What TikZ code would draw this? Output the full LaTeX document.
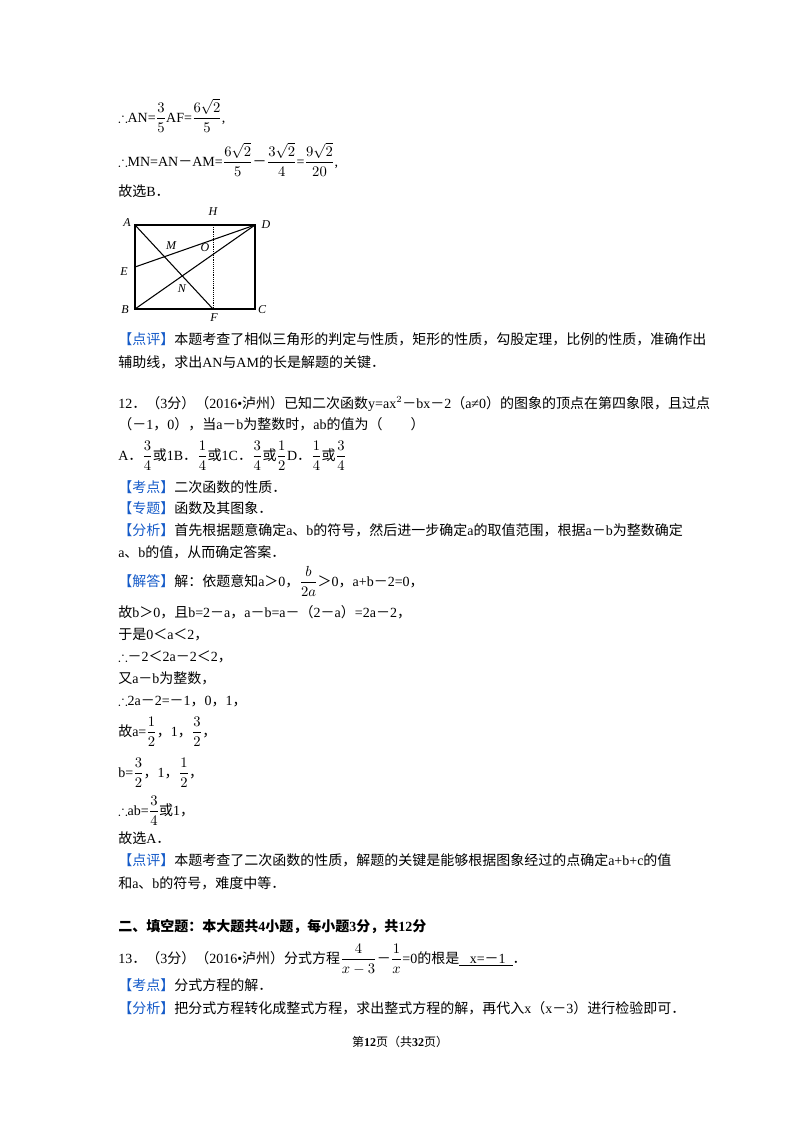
\documentclass[tikz,border=0pt]{standalone}
\usepackage{amsmath,amssymb}
\usepackage{fontspec}
\setmainfont{Liberation Serif}
\newfontfamily\cjk{Noto Sans CJK SC}
\XeTeXinterchartokenstate=1
\newXeTeXintercharclass\CJKcls
\newcount\cc
\cc="3000 \loop \XeTeXcharclass\cc=\CJKcls \advance\cc 1 \ifnum\cc<"A000 \repeat
\cc="FF00 \loop \XeTeXcharclass\cc=\CJKcls \advance\cc 1 \ifnum\cc<"FFF0 \repeat
\XeTeXinterchartoks 0 \CJKcls = {\begingroup\cjk}
\XeTeXinterchartoks 4095 \CJKcls = {\begingroup\cjk}
\XeTeXinterchartoks \CJKcls 0 = {\endgroup}
\XeTeXinterchartoks \CJKcls 4095 = {\endgroup}
\definecolor{kw}{RGB}{20,90,200}
\newcommand{\kw}[1]{\textcolor{kw}{【#1】}}
\newcommand{\tf}{$\therefore$}
\newcommand{\fr}[2]{$\dfrac{#1}{#2}$}
\begin{document}
\begin{tikzpicture}[x=0.75pt,y=-0.75pt,
  txt/.style={anchor=base west,inner sep=0pt,font=\fontsize{10.5}{12}\selectfont},
  lab/.style={font=\fontsize{9}{10}\selectfont\itshape,inner sep=1pt},
  ln/.style={line width=0.8pt}]
\useasboundingbox (0,0) rectangle (800,1132);
\node[txt] (l1) at (118,122) {\tf AN=\fr{3}{5}AF=\fr{6\sqrt{2}}{5},};
\node[txt] (l2) at (118,166) {\tf MN=AN－AM=\fr{6\sqrt{2}}{5}－\fr{3\sqrt{2}}{4}=\fr{9\sqrt{2}}{20},};
\node[txt] (l3) at (118,196) {故选B．};
% figure
\coordinate (A) at (135,225); \coordinate (D) at (255,225);
\coordinate (B) at (135,309); \coordinate (C) at (255,309);
\coordinate (H) at (213,225); \coordinate (F) at (213,309);
\coordinate (E) at (135,267);
\draw[ln] (A) rectangle (C);
\draw[ln] (A) -- (F); \draw[ln] (E) -- (D); \draw[ln] (B) -- (D);
\draw[densely dotted] (H) -- (F);
\node[lab] (lA) at (127,223) {A}; \node[lab] (lD) at (266,225) {D};
\node[lab] (lB) at (125,310) {B}; \node[lab] (lC) at (262,310) {C};
\node[lab] (lH) at (213,212) {H}; \node[lab] (lF) at (214,318) {F};
\node[lab] (lE) at (124,272) {E}; \node[lab] (lM) at (171,246) {M};
\node[lab] (lO) at (205,248) {O}; \node[lab] (lN) at (182,289) {N};
\node[txt] (p1) at (118,344) {\kw{点评}本题考查了相似三角形的判定与性质，矩形的性质，勾股定理，比例的性质，准确作出};
\node[txt] (p2) at (118,367) {辅助线，求出AN与AM的长是解题的关键．};
\node[txt] (q1) at (118,408) {12．（3分）（2016•泸州）已知二次函数y=ax$^{2}$－bx－2（a≠0）的图象的顶点在第四象限，且过点};
\node[txt] (q2) at (118,429) {（－1，0），当a－b为整数时，ab的值为（　　）};
\node[txt] (q3) at (118,460) {A．\fr{3}{4}或1B．\fr{1}{4}或1C．\fr{3}{4}或\fr{1}{2}D．\fr{1}{4}或\fr{3}{4}};
\node[txt] (k1) at (118,492) {\kw{考点}二次函数的性质．};
\node[txt] (k2) at (118,513) {\kw{专题}函数及其图象．};
\node[txt] (k3) at (118,535) {\kw{分析}首先根据题意确定a、b的符号，然后进一步确定a的取值范围，根据a－b为整数确定};
\node[txt] (k4) at (118,557) {a、b的值，从而确定答案．};
\node[txt] (s1) at (118,586) {\kw{解答}解：依题意知a＞0，\fr{b}{2a}＞0，a+b－2=0，};
\node[txt] (s2) at (118,617) {故b＞0，且b=2－a，a－b=a－（2－a）=2a－2，};
\node[txt] (s3) at (118,639) {于是0＜a＜2，};
\node[txt] (s4) at (118,661) {\tf －2＜2a－2＜2，};
\node[txt] (s5) at (118,683) {又a－b为整数，};
\node[txt] (s6) at (118,705) {\tf 2a－2=－1，0，1，};
\node[txt] (s7) at (118,736) {故a=\fr{1}{2}，1，\fr{3}{2}，};
\node[txt] (s8) at (118,777) {b=\fr{3}{2}，1，\fr{1}{2}，};
\node[txt] (s9) at (118,815) {\tf ab=\fr{3}{4}或1，};
\node[txt] (s10) at (118,843) {故选A．};
\node[txt] (d1) at (118,865) {\kw{点评}本题考查了二次函数的性质，解题的关键是能够根据图象经过的点确定a+b+c的值};
\node[txt] (d2) at (118,888) {和a、b的符号，难度中等．};
\node[txt] (h1) at (118,931) {\bfseries 二、填空题：本大题共4小题，每小题3分，共12分};
\node[txt] (t1) at (118,963) {13．（3分）（2016•泸州）分式方程\fr{4}{x-3}－\fr{1}{x}=0的根是\underline{\ \ \ x=－1\ \ }．};
\node[txt] (t2) at (118,990) {\kw{考点}分式方程的解．};
\node[txt] (t3) at (118,1013) {\kw{分析}把分式方程转化成整式方程，求出整式方程的解，再代入x（x－3）进行检验即可．};
\node[anchor=base,inner sep=0pt,font=\fontsize{9}{11}\selectfont] (pg) at (400,1046) {第\textbf{12}页（共\textbf{32}页）};
\end{tikzpicture}
\end{document}
